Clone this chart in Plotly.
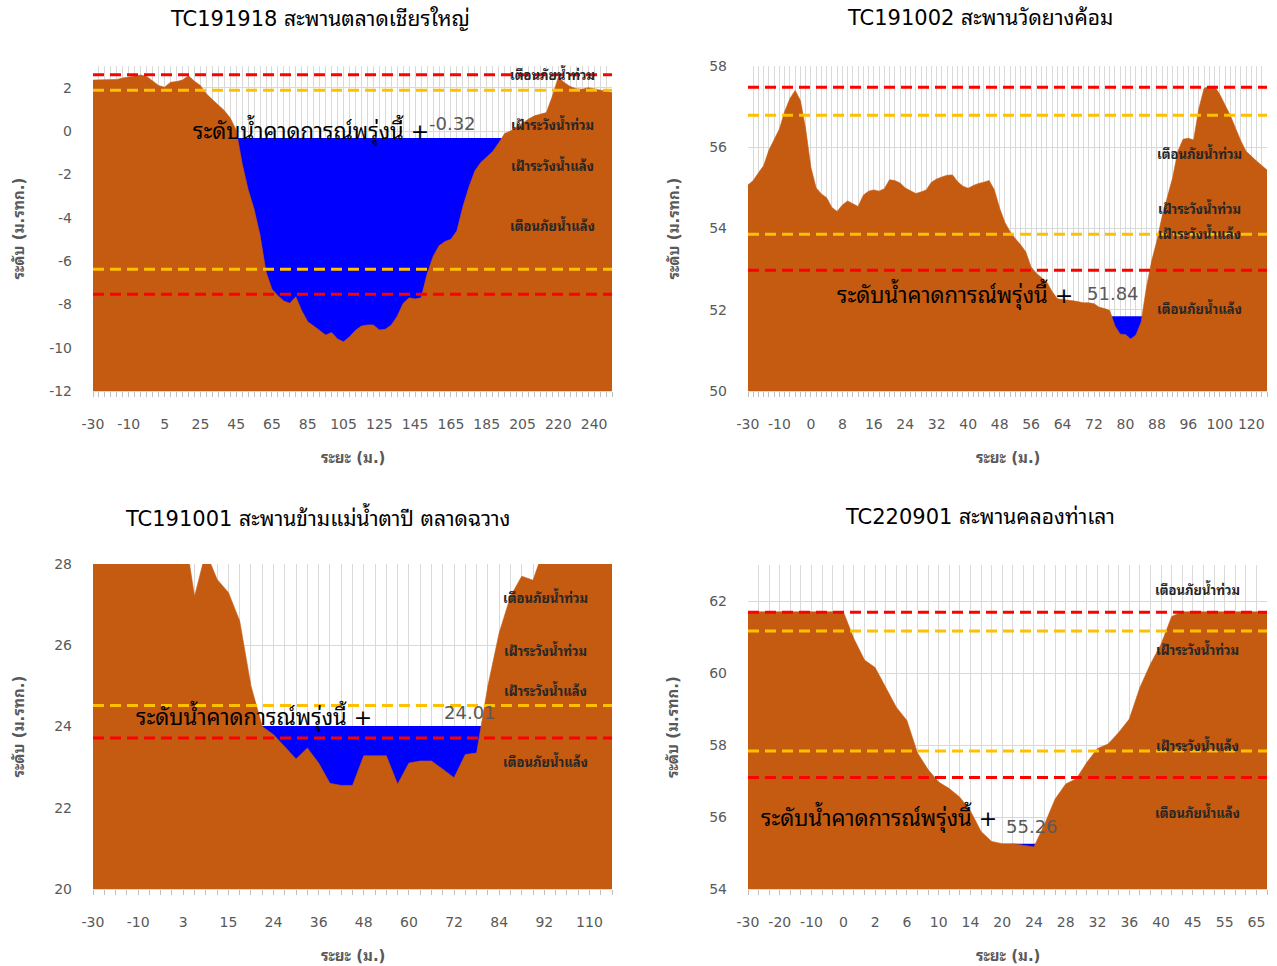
import plotly.graph_objects as go

# ---------------- data ----------------
titles = [
    "TC191918 สะพานตลาดเชียรใหญ่",
    "TC191002 สะพานวัดยางค้อม",
    "TC191001 สะพานข้ามแม่น้ำตาปี ตลาดฉวาง",
    "TC220901 สะพานคลองท่าเลา",
]

tick_labels_1 = ["-30", "-10", "5", "25", "45", "65", "85", "105", "125", "145", "165", "185", "205", "220", "240"]
tick_labels_2 = ["-30", "-10", "0", "8", "16", "24", "32", "40", "48", "56", "64", "72", "80", "88", "96", "100", "120"]
tick_labels_3 = ["-30", "-10", "3", "15", "24", "36", "48", "60", "72", "84", "92", "110"]
tick_labels_4 = ["-30", "-20", "-10", "0", "2", "6", "10", "14", "20", "24", "28", "32", "36", "40", "45", "55", "65"]
label_step = [6, 6, 4, 3]

ground_1 = [2.35, 2.35, 2.35, 2.35, 2.38, 2.45, 2.50, 2.53, 2.58, 2.52,
            2.30, 2.10, 2.02, 2.25, 2.28, 2.35, 2.55, 2.30, 2.10, 1.72,
            1.45, 1.20, 0.95, 0.60, 0.05, -1.50, -2.70, -3.60, -4.80, -6.50,
            -7.30, -7.60, -7.85, -7.95, -7.65, -8.30, -8.80, -9.00, -9.20, -9.42,
            -9.30, -9.60, -9.73, -9.50, -9.20, -9.00, -8.95, -8.95, -9.18, -9.15,
            -8.95, -8.55, -7.95, -7.70, -7.75, -7.70, -6.60, -5.80, -5.30, -5.10,
            -5.00, -4.60, -3.50, -2.60, -1.85, -1.45, -1.20, -0.95, -0.55, -0.12,
            0.00, 0.20, 0.35, 0.55, 0.70, 0.78, 0.85, 1.60, 2.48, 2.24,
            2.05, 1.95, 1.93, 2.00, 1.95, 1.90, 1.85, 1.78]

ground_2 = [55.07, 55.18, 55.37, 55.55, 55.93, 56.20, 56.45, 56.88, 57.20, 57.40,
            57.15, 56.45, 55.50, 55.00, 54.85, 54.76, 54.52, 54.42, 54.58, 54.68,
            54.60, 54.54, 54.82, 54.92, 54.95, 54.92, 54.98, 55.20, 55.18, 55.12,
            55.00, 54.92, 54.86, 54.90, 54.95, 55.14, 55.22, 55.27, 55.31, 55.32,
            55.15, 55.04, 54.99, 55.06, 55.11, 55.14, 55.18, 54.95, 54.50, 54.15,
            53.92, 53.75, 53.60, 53.42, 53.05, 52.90, 52.80, 52.68, 52.45, 52.27,
            52.25, 52.24, 52.22, 52.20, 52.17, 52.17, 52.15, 52.06, 52.03, 51.98,
            51.60, 51.40, 51.39, 51.28, 51.38, 51.70, 52.55, 53.20, 53.70, 54.30,
            54.75, 55.25, 55.90, 56.20, 56.22, 56.18, 56.95, 57.45, 57.50, 57.50,
            57.30, 57.04, 56.78, 56.47, 56.16, 55.90, 55.77, 55.66, 55.55, 55.44]

ground_3 = [29.0, 29.0, 29.0, 29.0, 29.0, 29.0, 29.0, 29.0, 29.0, 27.2,
            28.3, 27.62, 27.3, 26.6, 25.0, 24.0, 23.8, 23.5, 23.2, 23.47,
            23.1, 22.6, 22.55, 22.55, 23.28, 23.28, 23.28, 22.58, 23.1, 23.15,
            23.15, 22.95, 22.74, 23.31, 23.35, 25.0, 26.3, 27.2, 27.7, 27.6,
            28.4, 29.0, 29.0, 29.0, 29.0, 29.0, 29.0]

ground_4 = [61.7, 61.7, 61.7, 61.7, 61.7, 61.7, 61.7, 61.7, 61.7, 61.7,
            60.95, 60.36, 60.15, 59.62, 59.05, 58.68, 57.78, 57.32, 56.97, 56.79,
            56.55, 56.17, 55.60, 55.32, 55.26, 55.26, 55.22, 55.17, 55.80, 56.50,
            56.92, 57.06, 57.52, 57.90, 58.03, 58.35, 58.72, 59.60, 60.25, 60.80,
            61.57, 61.7, 61.7, 61.7, 61.7, 61.7, 61.7, 61.7, 61.7, 61.7]

water_level = [-0.32, 51.84, 24.01, 55.26]

# [เตือนภัยน้ำท่วม, เฝ้าระวังน้ำท่วม, เฝ้าระวังน้ำแล้ง, เตือนภัยน้ำแล้ง]
levels_1 = [2.60, 1.88, -6.38, -7.54]
levels_2 = [57.48, 56.79, 53.86, 52.97]
levels_3 = [None, None, 24.52, 23.72]
levels_4 = [61.69, 61.17, 57.83, 57.10]
level_names = ["เตือนภัยน้ำท่วม", "เฝ้าระวังน้ำท่วม", "เฝ้าระวังน้ำแล้ง", "เตือนภัยน้ำแล้ง"]
level_colors = ["#FF0000", "#FFC000", "#FFC000", "#FF0000"]

y_ranges = [[-12, 3], [50, 58], [20, 28], [54, 63]]

# ---------------- layout helpers ----------------
W, H = 1277, 966
THAI = "Tahoma, 'DejaVu Sans', 'Noto Sans Thai Looped', 'Noto Sans Thai', sans-serif"
BROWN = "#C55A11"
GRID = "#D9D9D9"
GRAY = "#595959"

plot_boxes = [  # left, top, right, bottom in px
    (93, 66, 612, 391),
    (748, 66, 1267, 391),
    (93, 564, 612, 889),
    (748, 565, 1267, 889),
]
title_centers = [320, 980, 318, 980]
level_label_y = [
    [2.62, 0.34, -1.55, -4.33],
    [55.85, 54.5, 53.9, 52.05],
    [27.2, 25.88, 24.91, 23.15],
    [62.33, 60.66, 58.0, 56.14],
]
level_label_x = [0.886, 0.869, 0.871, 0.867]
water_text_pos = [  # (thai right x, thai y, value left x, value y) in data coords
    (56.6, 0.05, 56.0, 0.35),
    (62.4, 52.39, 64.3, 52.41),
    (24.9, 24.26, 30.9, 24.35),
    (23.7, 56.0, 24.2, 55.75),
]

grounds = [ground_1, ground_2, ground_3, ground_4]
tick_labels = [tick_labels_1, tick_labels_2, tick_labels_3, tick_labels_4]
levels = [levels_1, levels_2, levels_3, levels_4]


def wet_span(elev, level):
    n = len(elev)
    i0 = min(range(n), key=lambda i: elev[i])
    l = i0
    while l > 0 and elev[l - 1] < level:
        l -= 1
    r = i0
    while r < n - 1 and elev[r + 1] < level:
        r += 1
    if l > 0:
        a, b = elev[l - 1], elev[l]
        xl = (l - 1) + (a - level) / (a - b)
    else:
        xl = 0
    if r < n - 1:
        c, d = elev[r], elev[r + 1]
        xr = r + (level - c) / (d - c)
    else:
        xr = n - 1
    return xl, xr


fig = go.Figure()
layout = dict(
    template="none",
    width=W, height=H, margin=dict(l=0, r=0, t=0, b=0, pad=0, autoexpand=False),
    paper_bgcolor="white", plot_bgcolor="white", showlegend=False,
    font=dict(family=THAI, color=GRAY),
)
annotations = []
shapes = []

for k in range(4):
    sfx = "" if k == 0 else str(k + 1)
    xa, ya = "x" + sfx, "y" + sfx
    elev = grounds[k]
    n = len(elev)
    y0, y1 = y_ranges[k]
    L, T, R, B = plot_boxes[k]

    # water (drawn first, ground covers the part below the bed)
    xl, xr = wet_span(elev, water_level[k])
    fig.add_trace(go.Scatter(
        x=[xl, xr, xr, xl], y=[water_level[k], water_level[k], y0, y0],
        fill="toself", fillcolor="#0000FF", mode="lines", line=dict(width=0),
        xaxis=xa, yaxis=ya, hoverinfo="skip"))
    # ground
    xs = list(range(n))
    fig.add_trace(go.Scatter(
        x=xs + [n - 1, 0], y=elev + [y0, y0],
        fill="toself", fillcolor=BROWN, mode="lines", line=dict(width=0.6, color=BROWN),
        xaxis=xa, yaxis=ya, hoverinfo="skip"))

    step = label_step[k]
    layout["xaxis" + sfx] = dict(
        domain=[L / W, R / W], anchor=ya, range=[0, n - 1], automargin=False,
        tickmode="array", tickvals=[i * step for i in range(len(tick_labels[k]))],
        ticktext=tick_labels[k], showgrid=True, gridcolor=GRID, gridwidth=1,
        ticks="outside", ticklen=5, tickcolor="#BFBFBF", showline=True, linecolor=GRID,
        zeroline=False, tickfont=dict(size=14, color=GRAY, family=THAI),
        ticklabelstandoff=15, fixedrange=True,
        minor=dict(tickmode="linear", tick0=0, dtick=1, showgrid=True, gridcolor=GRID,
                   gridwidth=1, ticks="outside", ticklen=5, tickcolor="#BFBFBF"),
    )
    yt = list(range(y0, y1 + 1, 2))
    layout["yaxis" + sfx] = dict(
        domain=[1 - B / H, 1 - T / H], anchor=xa, range=[y0, y1], automargin=False,
        tickmode="array", tickvals=yt, ticktext=[str(v) for v in yt],
        showgrid=True, gridcolor=GRID, gridwidth=1,
        zeroline=False, showline=False, ticks="", fixedrange=True,
        tickfont=dict(size=14, color=GRAY, family=THAI), ticklabelstandoff=20,
    )

    # threshold lines + labels
    for j, lv in enumerate(levels[k]):
        if lv is not None:
            shapes.append(dict(type="line", xref=xa + " domain", yref=ya, x0=0, x1=1,
                               y0=lv, y1=lv, layer="above",
                               line=dict(color=level_colors[j], width=3, dash="11px,6px")))
        annotations.append(dict(xref=xa + " domain", yref=ya, x=level_label_x[k],
                                y=level_label_y[k][j], text="<b>" + level_names[j] + "</b>",
                                showarrow=False, xanchor="center", yanchor="middle",
                                font=dict(size=13, color="#262626", family=THAI)))

    # forecast water level text
    tx, ty, vx, vy = water_text_pos[k]
    annotations.append(dict(xref=xa, yref=ya, x=tx, y=ty, text="ระดับน้ำคาดการณ์พรุ่งนี้ +",
                            showarrow=False, xanchor="right", yanchor="middle",
                            font=dict(size=22, color="#000000", family=THAI)))
    annotations.append(dict(xref=xa, yref=ya, x=vx, y=vy, text=f"{water_level[k]:.2f}",
                            showarrow=False, xanchor="left", yanchor="middle",
                            font=dict(size=18, color=GRAY, family=THAI)))

    # titles
    annotations.append(dict(xref="paper", yref="paper", x=title_centers[k] / W,
                            y=1 - (T - 48) / H, text=titles[k], showarrow=False,
                            xanchor="center", yanchor="middle",
                            font=dict(size=21, color="#000000", family=THAI)))
    # axis titles
    annotations.append(dict(xref="paper", yref="paper", x=(L - 75) / W, y=1 - ((T + B) / 2) / H,
                            text="<b>ระดับ (ม.รทก.)</b>", textangle=-90, showarrow=False,
                            xanchor="center", yanchor="middle",
                            font=dict(size=15, color=GRAY, family=THAI)))
    annotations.append(dict(xref="paper", yref="paper", x=(L + R) / 2 / W, y=1 - (B + 67) / H,
                            text="<b>ระยะ (ม.)</b>", showarrow=False, xanchor="center",
                            yanchor="middle", font=dict(size=15, color=GRAY, family=THAI)))

layout["annotations"] = annotations
layout["shapes"] = shapes
fig.update_layout(**layout)
fig.write_html(
    "out.html",
    config={"displayModeBar": False},
    post_script="document.body.style.margin='0';document.body.style.padding='0';"
                "document.body.style.overflow='hidden';",
)
